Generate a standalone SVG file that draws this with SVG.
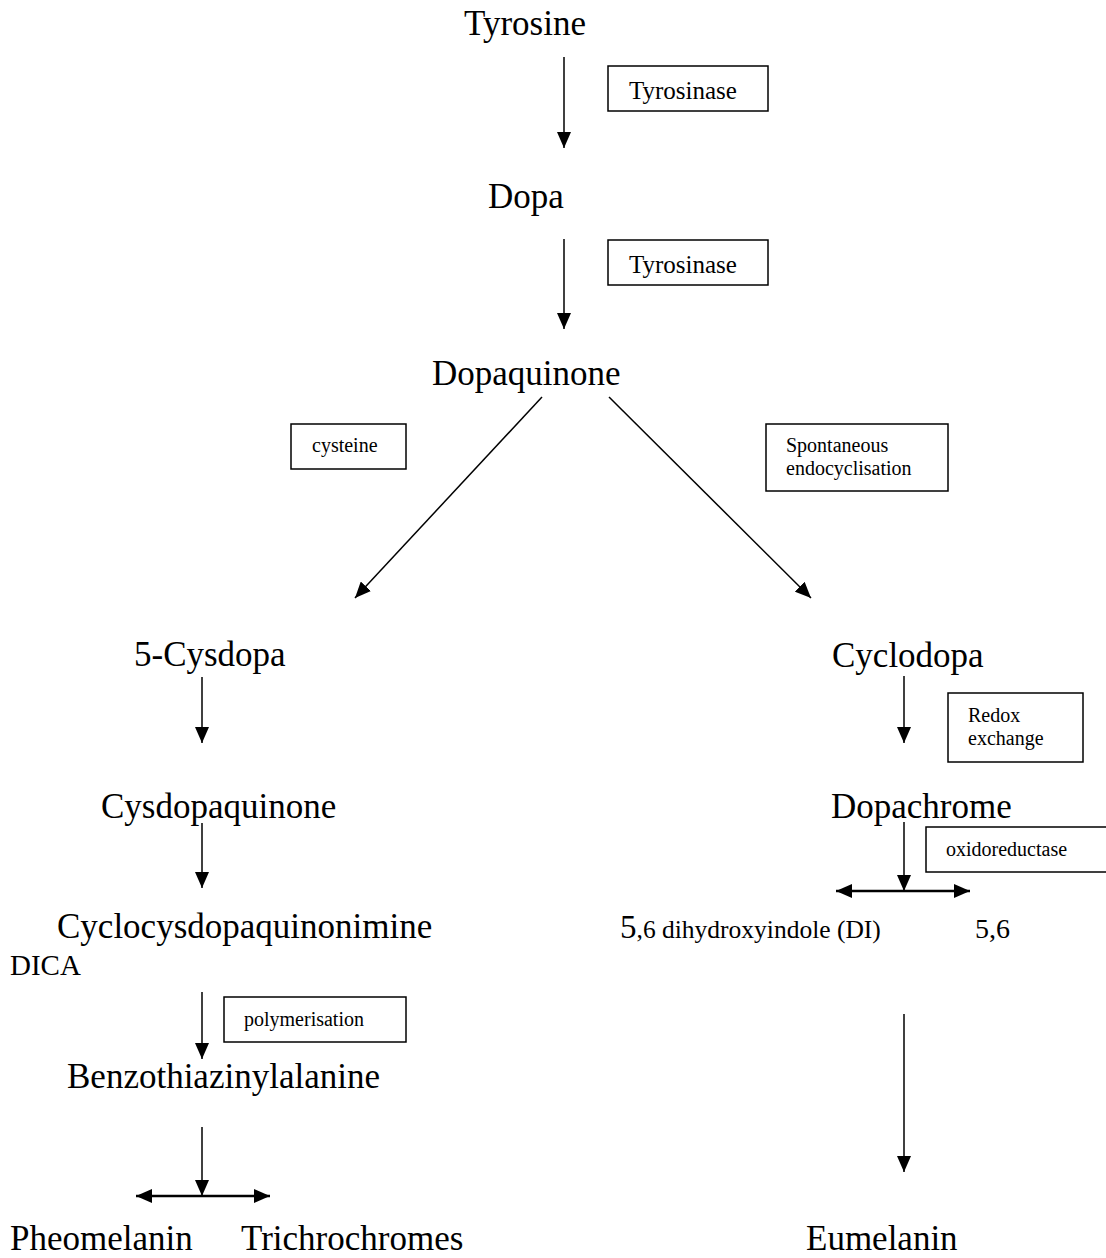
<svg xmlns="http://www.w3.org/2000/svg" width="1106" height="1258" viewBox="0 0 1106 1258">
<style>
  text { font-family: "Liberation Serif", "Times New Roman", serif; fill: #000; }
  .node { font-size: 35px; }
  .lbl { font-size: 20px; }
  .lbl24 { font-size: 25px; }
  .box { fill: #fff; stroke: #000; stroke-width: 1.5; }
  .conn { stroke: #000; stroke-width: 1.5; fill: none; }
  .thick { stroke-width: 2.5; }
</style>
<defs>
  <marker id="ah" markerUnits="userSpaceOnUse" markerWidth="16" markerHeight="14" refX="16" refY="7" orient="auto-start-reverse">
    <path d="M0,0 L16,7 L0,14 z" fill="#000"/>
  </marker>
</defs>
<rect width="1106" height="1258" fill="#fff"/>

<g id="connectors">
  <line class="conn" x1="564" y1="57" x2="564" y2="148" marker-end="url(#ah)"/>
  <line class="conn" x1="564" y1="239" x2="564" y2="329" marker-end="url(#ah)"/>
  <line class="conn" x1="542" y1="397" x2="355" y2="598" marker-end="url(#ah)"/>
  <line class="conn" x1="609" y1="397" x2="811" y2="598" marker-end="url(#ah)"/>
  <line class="conn" x1="202" y1="677" x2="202" y2="743" marker-end="url(#ah)"/>
  <line class="conn" x1="202" y1="823" x2="202" y2="888" marker-end="url(#ah)"/>
  <line class="conn" x1="202" y1="992" x2="202" y2="1059" marker-end="url(#ah)"/>
  <line class="conn" x1="202" y1="1127" x2="202" y2="1196" marker-end="url(#ah)"/>
  <line class="conn thick" x1="136" y1="1196" x2="270" y2="1196" marker-start="url(#ah)" marker-end="url(#ah)"/>
  <line class="conn" x1="904" y1="676" x2="904" y2="743" marker-end="url(#ah)"/>
  <line class="conn" x1="904" y1="822" x2="904" y2="891" marker-end="url(#ah)"/>
  <line class="conn thick" x1="836" y1="891" x2="970" y2="891" marker-start="url(#ah)" marker-end="url(#ah)"/>
  <line class="conn" x1="904" y1="1014" x2="904" y2="1172" marker-end="url(#ah)"/>
</g>

<g id="tyrosine"><text class="node" x="464" y="35">Tyrosine</text></g>
<g id="enz-tyrosinase-1"><rect class="box" x="608" y="66" width="160" height="45"/><text class="lbl24" x="629" y="99">Tyrosinase</text></g>
<g id="dopa"><text class="node" x="488" y="208">Dopa</text></g>
<g id="enz-tyrosinase-2"><rect class="box" x="608" y="240" width="160" height="45"/><text class="lbl24" x="629" y="273">Tyrosinase</text></g>
<g id="dopaquinone"><text class="node" x="432" y="385">Dopaquinone</text></g>
<g id="enz-cysteine"><rect class="box" x="291" y="424" width="115" height="45"/><text class="lbl" x="312" y="452">cysteine</text></g>
<g id="enz-spontaneous"><rect class="box" x="766" y="424" width="182" height="67"/><text class="lbl" x="786" y="452">Spontaneous</text><text class="lbl" x="786" y="475">endocyclisation</text></g>

<g id="cysdopa"><text class="node" x="134" y="666">5-Cysdopa</text></g>
<g id="cysdopaquinone"><text class="node" x="101" y="818">Cysdopaquinone</text></g>
<g id="cyclocysdopaquinonimine"><text class="node" x="57" y="938">Cyclocysdopaquinonimine</text></g>
<g id="dica"><text x="10" y="975" style="font-size:29px">DICA</text></g>
<g id="enz-polymerisation"><rect class="box" x="224" y="997" width="182" height="45"/><text class="lbl" x="244" y="1026">polymerisation</text></g>
<g id="benzothiazinylalanine"><text class="node" x="67" y="1088">Benzothiazinylalanine</text></g>
<g id="pheomelanin"><text class="node" x="10" y="1250">Pheomelanin</text></g>
<g id="trichrochromes"><text class="node" x="241" y="1250">Trichrochromes</text></g>

<g id="cyclodopa"><text class="node" x="832" y="667">Cyclodopa</text></g>
<g id="enz-redox"><rect class="box" x="948" y="693" width="135" height="69"/><text class="lbl" x="968" y="722">Redox</text><text class="lbl" x="968" y="745">exchange</text></g>
<g id="dopachrome"><text class="node" x="831" y="818">Dopachrome</text></g>
<g id="enz-oxidoreductase"><rect class="box" x="926" y="827" width="186" height="45"/><text class="lbl" x="946" y="856">oxidoreductase</text></g>
<g id="dihydroxyindole"><text x="620" y="938" style="font-size:25.5px"><tspan style="font-size:33px">5</tspan>,6 dihydroxyindole (DI)</text><text x="975" y="938" style="font-size:28px">5,6</text></g>
<g id="eumelanin"><text class="node" x="806" y="1250">Eumelanin</text></g>
</svg>
